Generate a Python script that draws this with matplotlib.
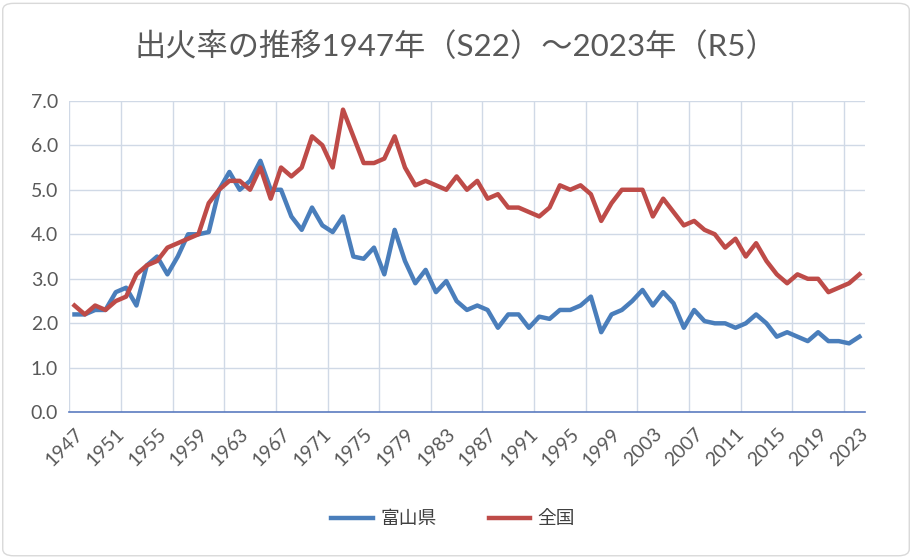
import matplotlib.pyplot as plt
from matplotlib.patches import FancyBboxPatch
from matplotlib.lines import Line2D

plt.rcParams['font.family'] = ['Lato', 'Noto Sans CJK JP', 'DejaVu Sans']

years = list(range(1947, 2024))

# 出火率 (富山県)
toyama = [2.2, 2.2, 2.3, 2.3, 2.7, 2.8, 2.4, 3.3, 3.5, 3.1,
          3.5, 4.0, 4.0, 4.05, 5.0, 5.4, 5.0, 5.2, 5.65, 5.0,
          5.0, 4.4, 4.1, 4.6, 4.2, 4.05, 4.4, 3.5, 3.45, 3.7,
          3.1, 4.1, 3.4, 2.9, 3.2, 2.7, 2.95, 2.5, 2.3, 2.4,
          2.3, 1.9, 2.2, 2.2, 1.9, 2.15, 2.1, 2.3, 2.3, 2.4,
          2.6, 1.8, 2.2, 2.3, 2.5, 2.75, 2.4, 2.7, 2.45, 1.9,
          2.3, 2.05, 2.0, 2.0, 1.9, 2.0, 2.2, 2.0, 1.7, 1.8,
          1.7, 1.6, 1.8, 1.6, 1.6, 1.55, 1.7]

# 出火率 (全国)
zenkoku = [2.4, 2.2, 2.4, 2.3, 2.5, 2.6, 3.1, 3.3, 3.4, 3.7,
           3.8, 3.9, 4.0, 4.7, 5.0, 5.2, 5.2, 5.0, 5.5, 4.8,
           5.5, 5.3, 5.5, 6.2, 6.0, 5.5, 6.8, 6.2, 5.6, 5.6,
           5.7, 6.2, 5.5, 5.1, 5.2, 5.1, 5.0, 5.3, 5.0, 5.2,
           4.8, 4.9, 4.6, 4.6, 4.5, 4.4, 4.6, 5.1, 5.0, 5.1,
           4.9, 4.3, 4.7, 5.0, 5.0, 5.0, 4.4, 4.8, 4.5, 4.2,
           4.3, 4.1, 4.0, 3.7, 3.9, 3.5, 3.8, 3.4, 3.1, 2.9,
           3.1, 3.0, 3.0, 2.7, 2.8, 2.9, 3.1]

label_years = list(range(1947, 2024, 4))

fig = plt.figure(figsize=(9.12, 5.58), dpi=100)
ax = fig.add_axes([0.076, 0.261, 0.872, 0.5585])

grid_c = '#D0D9E6'
for x in range(0, 16):
    ax.axvline(1946.5 + 5 * x, color=grid_c, lw=1.0, zorder=0)
for y in range(1, 8):
    ax.axhline(y, color=grid_c, lw=1.0, zorder=0)

ax.plot(years, toyama, color='#4A7EBB', lw=3.2, solid_joinstyle='round', label='富山県')
ax.plot(years, zenkoku, color='#BE4B48', lw=3.2, solid_joinstyle='round', label='全国')

ax.set_xlim(1946.5, 2023.5)
ax.set_ylim(0, 7)
ax.set_yticks(range(0, 8))
ax.set_yticklabels([f'{v:.1f}' for v in range(0, 8)], fontsize=14, color='#595959')
ax.set_xticks(label_years)
ax.set_xticklabels([str(y) for y in label_years], rotation=45, ha='right',
                   rotation_mode='anchor', fontsize=14, color='#595959')
ax.tick_params(axis='both', length=0)
ax.tick_params(axis='x', pad=9)
ax.tick_params(axis='y', pad=8)

for s in ['top', 'right', 'left']:
    ax.spines[s].set_visible(False)
ax.spines['bottom'].set_color('#5B7BC0')
ax.spines['bottom'].set_linewidth(1.2)

fig.text(0.5, 0.917, '出火率の推移1947年（S22）～2023年（R5）', ha='center', va='center',
         fontsize=22.5, color='#595959')

handles = [Line2D([], [], color='#4A7EBB', lw=3.2), Line2D([], [], color='#BE4B48', lw=3.2)]
fig.legend(handles, ['富山県', '全国'], loc='center', bbox_to_anchor=(0.497, 0.07),
           ncol=2, frameon=False, fontsize=13.5, handlelength=2.2, handletextpad=0.4,
           columnspacing=2.8, labelcolor='#404040')

border = FancyBboxPatch((0.003, 0.004), 0.994, 0.99, boxstyle='round,pad=0,rounding_size=0.012',
                        transform=fig.transFigure, fill=False, edgecolor='#D9D9D9', lw=1.0)
fig.patches.append(border)

fig.savefig('out.png', dpi=100)
